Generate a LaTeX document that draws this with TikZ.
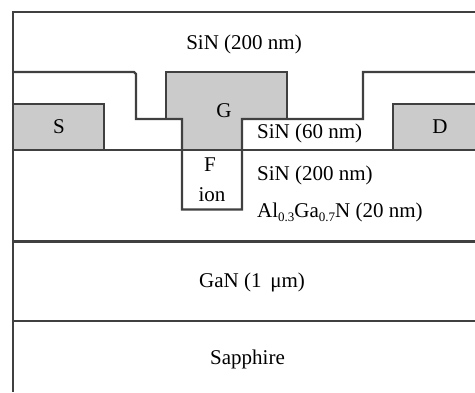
\documentclass[tikz,border=0pt]{standalone}
\usepackage{fontspec}
\setmainfont{Liberation Serif}
\definecolor{figGris}{RGB}{203,203,203}
\definecolor{figTrait}{RGB}{64,64,64}
\newcommand{\sousindice}[1]{\raisebox{-3.5pt}{\fontsize{13}{13}\selectfont #1}}

\begin{document}
\begin{tikzpicture}[
  x=1pt, y=-1pt,
  every node/.style={font=\fontsize{21}{24}\selectfont, text=black, inner sep=0pt},
  ligne/.style={draw=figTrait, line width=2.2pt},
  lbl/.style={anchor=west}
]
\useasboundingbox (0,0) rectangle (475,392);

% metal contacts
\fill[figGris] (166,72) rectangle (287,119);
\fill[figGris] (182,119) rectangle (242,149.5);
\fill[figGris] (13,104) rectangle (104,149.5);
\fill[figGris] (393,104) rectangle (475,149.5);
\draw[ligne] (13,149.5) |- (104,104) -- (104,149.5);
\draw[ligne] (475,104) -| (393,149.5);

% layers
\draw[ligne] (475,12) -| (13,392);
\draw[ligne] (13,149.8) -- (475,149.8);
\draw[ligne] (13,241.5) -- (475,241.5);
\draw[ligne] (13,321) -- (475,321);

% gate and passivation
\draw[ligne] (166,119) |- (287,72) -- (287,119);
\draw[ligne] (13,72) -- (134,72) -- (136,74) -- (136,119) -- (182,119)
  -- (182,209.5) -- (242,209.5) -- (242,119) -- (363,119) -- (363,72) -- (475,72);

\node (sinHaut) at (244,44) {SiN (200 nm)};
\node (source) at (59,127) {S};
\node (gate) at (224,111) {G};
\node (drain) at (440,127) {D};
\node (fluor) at (210,165) {F};
\node (ion) at (212,195) {ion};
\node[lbl] (sinMince) at (257,133.5) {SiN (60 nm)};
\node[lbl] (sinBas) at (257,175) {SiN (200 nm)};
\node[lbl] (algan) at (257,212.5) {Al\sousindice{0.3}Ga\sousindice{0.7}N (20 nm)};
\node (gan) at (252,282) {GaN (1 \,μm)};
\node (sapphire) at (247.5,359) {Sapphire};

\end{tikzpicture}
\end{document}
